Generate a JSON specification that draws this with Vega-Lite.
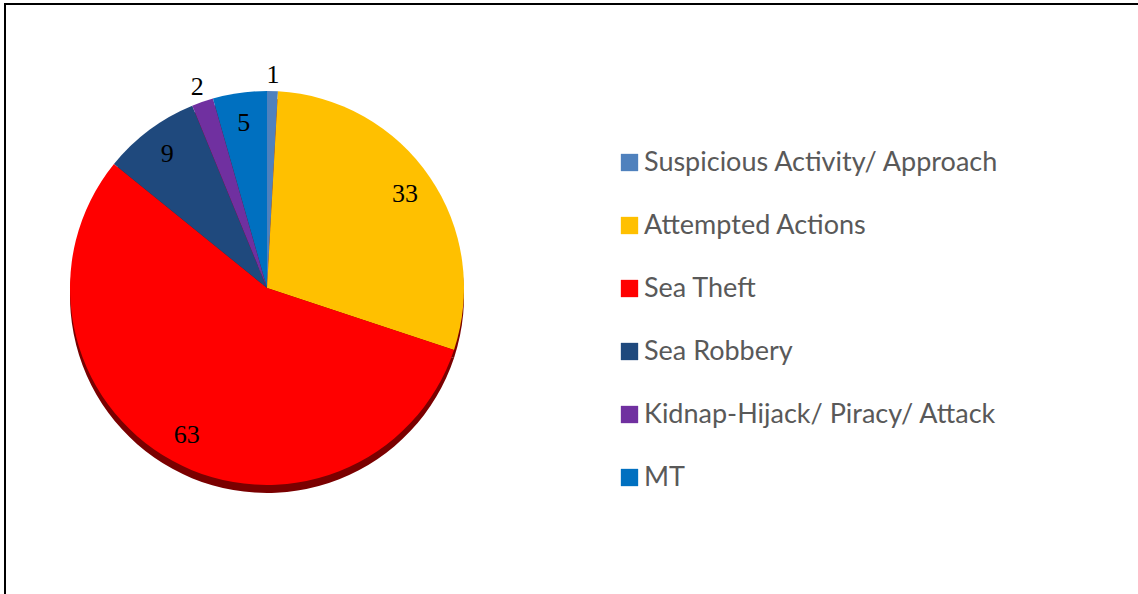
{
  "$schema": "https://vega.github.io/schema/vega-lite/v6.json",
  "width": 1140,
  "height": 600,
  "autosize": {"type": "none"},
  "padding": {"left": 5, "top": 4, "right": 0, "bottom": 0},
  "background": "white",
  "view": {"stroke": "black", "strokeWidth": 2, "fill": "white"},
  "data": {
    "values": [
      {"category": "Suspicious Activity/ Approach", "value": 1, "ord": 1},
      {"category": "Attempted Actions", "value": 33, "ord": 2},
      {"category": "Sea Theft", "value": 63, "ord": 3},
      {"category": "Sea Robbery", "value": 9, "ord": 4},
      {"category": "Kidnap-Hijack/ Piracy/ Attack", "value": 2, "ord": 5},
      {"category": "MT", "value": 5, "ord": 6}
    ]
  },
  "encoding": {
    "theta": {"field": "value", "type": "quantitative", "stack": true},
    "order": {"field": "ord", "type": "quantitative"}
  },
  "layer": [
    {
      "mark": {"type": "arc", "radius": 197, "x": 262, "y": 292, "fill": "#7a0000"}
    },
    {
      "mark": {"type": "arc", "radius": 197, "x": 262, "y": 284},
      "encoding": {
        "color": {
          "field": "category",
          "type": "nominal",
          "scale": {
            "domain": ["Suspicious Activity/ Approach", "Attempted Actions", "Sea Theft", "Sea Robbery", "Kidnap-Hijack/ Piracy/ Attack", "MT"],
            "range": ["#4F81BD", "#FFC000", "#FF0000", "#1F497D", "#7030A0", "#0070C0"]
          },
          "legend": {
            "title": null,
            "orient": "none",
            "legendX": 611,
            "legendY": 145,
            "symbolType": "square",
            "symbolSize": 300,
            "symbolStrokeWidth": 0,
            "labelFont": "Lato",
            "labelFontSize": 27,
            "labelColor": "#595959",
            "labelOffset": 1,
            "rowPadding": 35,
            "labelLimit": 600
          }
        }
      }
    },
    {
      "mark": {"type": "text", "radius": 213, "x": 262, "y": 284, "font": "Liberation Serif", "fontSize": 26, "color": "black"},
      "encoding": {
        "text": {"condition": {"test": "datum.value <= 2", "field": "value", "type": "quantitative"}, "value": ""}
      }
    },
    {
      "mark": {"type": "text", "radius": 167, "x": 262, "y": 284, "font": "Liberation Serif", "fontSize": 26, "color": "black"},
      "encoding": {
        "text": {"condition": {"test": "datum.value > 2", "field": "value", "type": "quantitative"}, "value": ""}
      }
    }
  ]
}
